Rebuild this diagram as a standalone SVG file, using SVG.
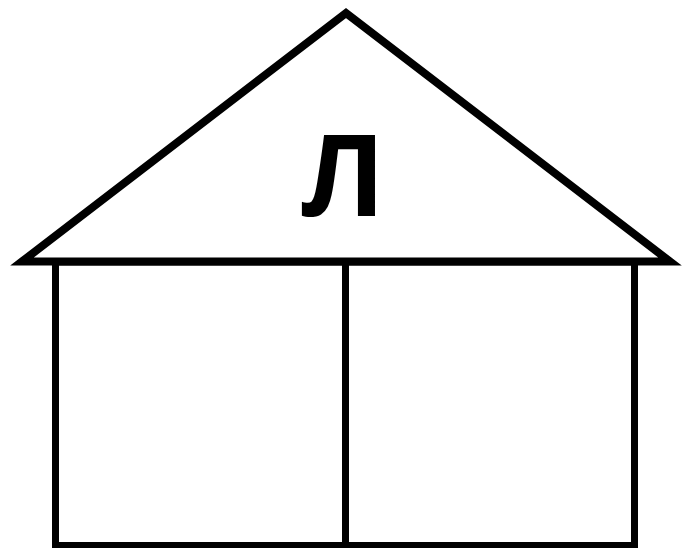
<svg xmlns="http://www.w3.org/2000/svg" width="690" height="548" viewBox="0 0 690 548">
<style>
.roof{fill:none;stroke:#000;stroke-width:8;stroke-linejoin:miter}
.wall{fill:none;stroke:#000;stroke-width:7}
.lbl{font-family:"Open Sans","Noto Sans",sans-serif;font-weight:bold;font-size:113px;fill:#000}
</style>
<rect width="690" height="548" fill="#fff"/>
<g id="walls">
<rect class="wall" x="55.5" y="262" width="579" height="283.5"/>
<line class="wall" x1="345.5" y1="262" x2="345.5" y2="545.5"/>
</g>
<g id="roof">
<polygon class="roof" points="22,261.5 346,13 670,261.5"/>
<text class="lbl" x="343" y="216" text-anchor="middle">Л</text>
</g>
</svg>
